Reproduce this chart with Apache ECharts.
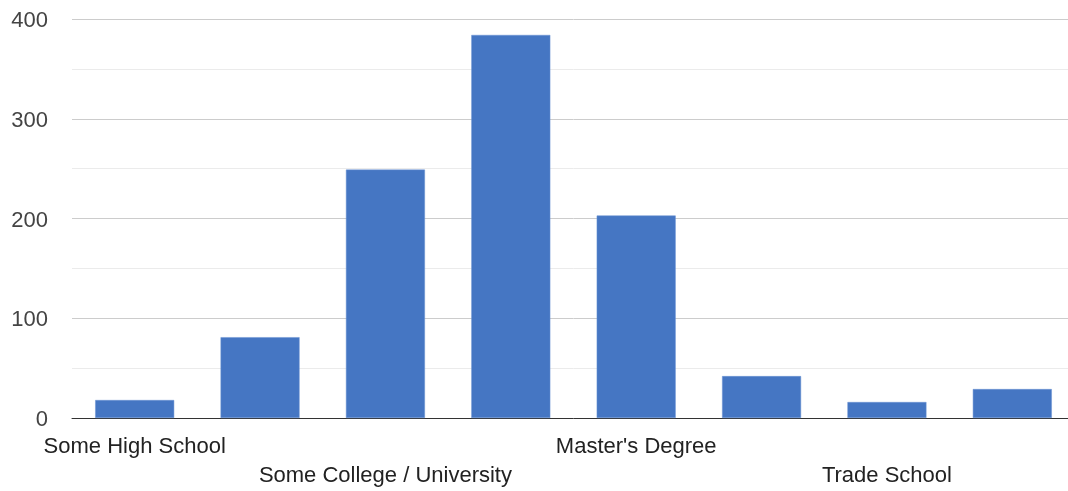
<!DOCTYPE html>
<html>
<head>
<meta charset="utf-8">
<script src="https://cdn.jsdelivr.net/npm/echarts@6/dist/echarts.min.js"></script>
<style>
html,body{margin:0;padding:0;background:#fff;overflow:hidden;}
#chart{width:1075px;height:491px;}
</style>
</head>
<body>
<div id="chart"></div>
<script>
const categories = ["Some High School", "High School Graduate", "Some College / University", "Bachelor's Degree", "Master's Degree", "Doctorate", "Trade School", "Other"];
const values = [18, 81, 249, 384, 203, 42, 16, 29];
const yTicks = [0, 100, 200, 300, 400];

const chart = echarts.init(document.getElementById('chart'), null, {renderer: 'canvas'});
chart.setOption({
  animation: false,
  grid: {left: 72, top: 19, right: 0, bottom: 73, containLabel: false},
  xAxis: {
    type: 'category',
    data: categories,
    axisTick: {show: false},
    axisLine: {lineStyle: {color: '#333', width: 1}},
    axisLabel: {
      interval: function (i) { return i % 2 === 0; },
      formatter: function (v, i) { return i % 4 === 2 ? '\n' + v : v; },
      color: '#222',
      fontFamily: 'Liberation Sans, Arial, sans-serif',
      fontSize: 22,
      lineHeight: 29,
      margin: 14
    }
  },
  yAxis: {
    type: 'value',
    min: yTicks[0],
    max: yTicks[yTicks.length - 1],
    interval: 100,
    axisLine: {show: false},
    axisTick: {show: false},
    axisLabel: {
      formatter: function (v) { return '{t|' + v + '}'; },
      margin: 24,
      rich: {
        t: {
          color: '#444',
          fontFamily: 'Liberation Sans, Arial, sans-serif',
          fontSize: 22,
          padding: [4, 0, 0, 0]
        }
      }
    },
    splitLine: {lineStyle: {color: '#cccccc', width: 1}},
    minorTick: {show: false, splitNumber: 2},
    minorSplitLine: {show: true, lineStyle: {color: '#ebebeb', width: 1}}
  },
  series: [{
    type: 'bar',
    data: values,
    barWidth: '63%',
    itemStyle: {color: '#4576c3', borderColor: '#6a93d3', borderWidth: 0.5}
  }]
});
</script>
</body>
</html>
